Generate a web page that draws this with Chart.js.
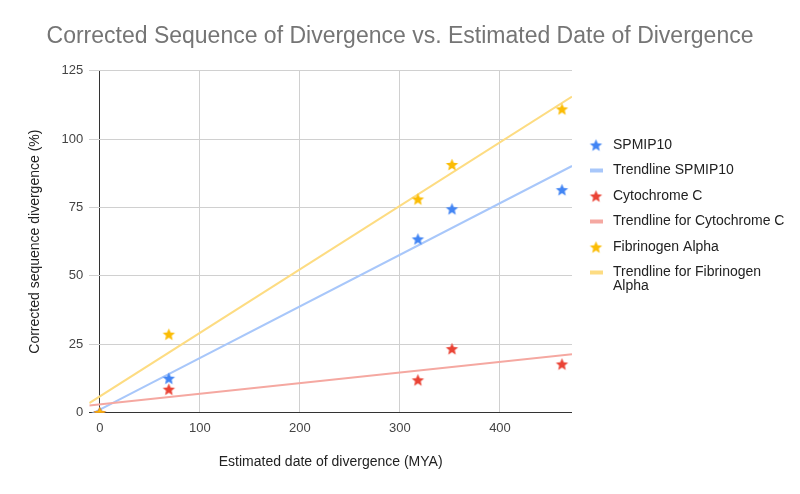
<!DOCTYPE html>
<html>
<head>
<meta charset="utf-8">
<title>Corrected Sequence of Divergence vs. Estimated Date of Divergence</title>
<script src="https://cdn.jsdelivr.net/npm/chart.js@4.4.1/dist/chart.umd.min.js"></script>
<style>
    html, body { margin: 0; padding: 0; background: #fff; }
    #wrap { width: 800px; height: 494px; position: relative; }
</style>
</head>
<body>
<div id="wrap"><canvas id="divergence-chart"></canvas></div>
<script>
"use strict";

// values (x = MYA, y = %)
var dates = [0, 69, 318, 352, 462];
var spmip10 = [0, 12.6, 63.5, 74.5, 81.5];
var cytochromeC = [0, 8.6, 12.0, 23.4, 17.8];
var fibrinogenAlpha = [0, 28.7, 78.1, 90.7, 111.0];
var xTicks = [0, 100, 200, 300, 400];
var yTicks = [0, 25, 50, 75, 100, 125];

var X_MIN = -10.5;
var X_MAX = 472;
var FONT = 'Arial, "Liberation Sans", sans-serif';

function points(xs, ys) {
    return xs.map(function (x, i) { return { x: x, y: ys[i] }; });
}

// least squares line, drawn across the whole x range
function trend(xs, ys) {
    var n = xs.length, mx = 0, my = 0, sxx = 0, sxy = 0;
    xs.forEach(function (x, i) { mx += x / n; my += ys[i] / n; });
    xs.forEach(function (x, i) {
        sxx += (x - mx) * (x - mx);
        sxy += (x - mx) * (ys[i] - my);
    });
    var slope = sxy / sxx;
    var b = my - slope * mx;
    return [{ x: X_MIN, y: b + slope * X_MIN }, { x: X_MAX, y: b + slope * X_MAX }];
}

function makeStar(color, r) {
    var size = Math.ceil(r * 2) + 2;
    var c = document.createElement('canvas');
    c.width = size;
    c.height = size;
    var g = c.getContext('2d');
    g.fillStyle = color;
    g.beginPath();
    for (var i = 0; i < 10; i++) {
        var rad = i % 2 === 0 ? r : r * 0.45;
        var a = -Math.PI / 2 + i * Math.PI / 5;
        var px = size / 2 + rad * Math.cos(a);
        var py = size / 2 + rad * Math.sin(a) + r * 0.1;
        if (i === 0) g.moveTo(px, py); else g.lineTo(px, py);
    }
    g.closePath();
    g.fill();
    return c;
}

var blueStar = makeStar('#4285f4', 6.5);
var redStar = makeStar('#ea4335', 6.5);
var yellowStar = makeStar('#fbbc04', 6.5);

var legendItems = [
    { text: 'SPMIP10', star: blueStar },
    { text: 'Trendline SPMIP10', color: '#a8c7fa' },
    { text: 'Cytochrome C', star: redStar },
    { text: 'Trendline for Cytochrome C', color: '#f5a8a1' },
    { text: 'Fibrinogen Alpha', star: yellowStar },
    { text: 'Trendline for Fibrinogen Alpha', color: '#fddc82' }
];

// legend on the right, with wrapping like the original
var sideLegend = {
    id: 'sideLegend',
    afterDraw: function (chart) {
        var ctx = chart.ctx;
        ctx.save();
        ctx.font = '14px ' + FONT;
        ctx.fillStyle = '#222';
        ctx.textBaseline = 'middle';
        ctx.textAlign = 'left';
        var maxW = 800 - 613 - 8;
        legendItems.forEach(function (item, i) {
            var y = 145 + i * 25.5;
            if (item.star) {
                ctx.drawImage(item.star, 596 - item.star.width / 2, y - item.star.height / 2);
            } else {
                ctx.fillStyle = item.color;
                ctx.fillRect(590, y - 2, 13, 4);
                ctx.fillStyle = '#222';
            }
            var words = item.text.split(' '), line = '', ly = y;
            words.forEach(function (w) {
                var test = line ? line + ' ' + w : w;
                if (ctx.measureText(test).width > maxW && line) {
                    ctx.fillText(line, 613, ly);
                    line = w;
                    ly += 14;
                } else {
                    line = test;
                }
            });
            ctx.fillText(line, 613, ly);
        });
        ctx.restore();
    }
};

function gridColor(c) {
    return c.tick && c.tick.value === 0 ? '#333' : '#d0d0d0';
}

var myScatter = new Chart(document.getElementById('divergence-chart'), {
    type: 'scatter',
    data: {
        datasets: [{
            label: 'Fibrinogen Alpha',
            data: points(dates, fibrinogenAlpha),
            pointStyle: yellowStar,
            order: 0
        }, {
            label: 'Cytochrome C',
            data: points(dates, cytochromeC),
            pointStyle: redStar,
            order: 1
        }, {
            label: 'SPMIP10',
            data: points(dates, spmip10),
            pointStyle: blueStar,
            order: 2
        }, {
            label: 'Trendline SPMIP10',
            data: trend(dates, spmip10),
            showLine: true,
            borderColor: '#a8c7fa',
            borderWidth: 2,
            pointRadius: 0,
            order: 5
        }, {
            label: 'Trendline for Cytochrome C',
            data: trend(dates, cytochromeC),
            showLine: true,
            borderColor: '#f5a8a1',
            borderWidth: 2,
            pointRadius: 0,
            order: 4
        }, {
            label: 'Trendline for Fibrinogen Alpha',
            data: trend(dates, fibrinogenAlpha),
            showLine: true,
            borderColor: '#fddc82',
            borderWidth: 2,
            pointRadius: 0,
            order: 3
        }]
    },
    options: {
        responsive: true,
        maintainAspectRatio: false,
        animation: false,
        layout: { padding: 0 },
        plugins: {
            legend: { display: false },
            tooltip: { enabled: false },
            title: {
                display: true,
                text: 'Corrected Sequence of Divergence vs. Estimated Date of Divergence',
                color: '#757575',
                font: { family: FONT, size: 23, weight: 'normal' },
                padding: { top: 23, bottom: 20 }
            }
        },
        scales: {
            x: {
                type: 'linear',
                min: X_MIN,
                max: X_MAX,
                afterBuildTicks: function (scale) {
                    scale.ticks = xTicks.map(function (v) { return { value: v }; });
                },
                afterFit: function (scale) { scale.height = 81.3; },
                border: { display: false },
                grid: { color: gridColor, drawTicks: false },
                ticks: {
                    autoSkip: false,
                    maxRotation: 0,
                    padding: 8,
                    color: '#444',
                    font: { family: FONT, size: 13 }
                },
                title: {
                    display: true,
                    text: 'Estimated date of divergence (MYA)',
                    color: '#222',
                    font: { family: FONT, size: 14 },
                    padding: { top: 0, bottom: 23.6 }
                }
            },
            y: {
                min: 0,
                max: 125,
                afterBuildTicks: function (scale) {
                    scale.ticks = yTicks.map(function (v) { return { value: v }; });
                },
                afterFit: function (scale) { scale.width = 89.3; },
                border: { display: false },
                grid: { color: gridColor, drawTicks: false },
                ticks: {
                    padding: 6,
                    color: '#444',
                    font: { family: FONT, size: 13 }
                },
                title: {
                    display: true,
                    text: 'Corrected sequence divergence (%)',
                    color: '#222',
                    font: { family: FONT, size: 14 },
                    padding: { top: 26.6, bottom: 0 }
                }
            },
            // empty box on the right that keeps room for the legend
            side: {
                type: 'linear',
                position: 'right',
                afterFit: function (scale) { scale.width = 228; },
                border: { display: false },
                grid: { display: false },
                ticks: { display: false }
            }
        }
    },
    plugins: [sideLegend]
});
</script>
</body>
</html>
